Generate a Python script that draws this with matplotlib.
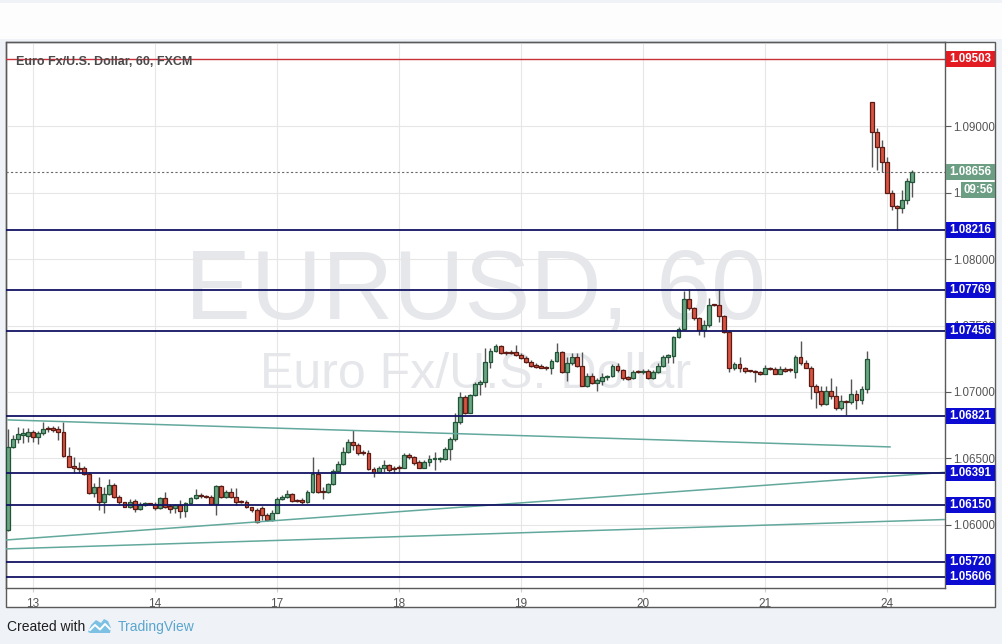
import numpy as np
import matplotlib.pyplot as plt
from matplotlib.patches import Rectangle, Polygon
from matplotlib.lines import Line2D
from matplotlib.transforms import blended_transform_factory

plt.rcParams['font.family'] = ['Liberation Sans', 'DejaVu Sans']

# EUR/USD hourly candles, bar index 0 = the 13th 00:00 (weekend hours skipped)
first_bar = -5
opens = [1.05961, 1.06589, 1.06644, 1.06676, 1.06669, 1.06697, 1.06659, 1.06689, 1.06724, 1.06724,
         1.06724, 1.06697, 1.06521, 1.06443, 1.06425, 1.06425, 1.06383, 1.06237, 1.06282, 1.06174,
         1.06232, 1.06297, 1.06212, 1.06169, 1.06137, 1.06179, 1.06117, 1.06152, 1.06157, 1.06157,
         1.06124, 1.06200, 1.06142, 1.06124, 1.06149, 1.06107, 1.06162, 1.06200, 1.06220, 1.06215,
         1.06212, 1.06157, 1.06292, 1.06207, 1.06250, 1.06212, 1.06174, 1.06174, 1.06132, 1.06112,
         1.06124, 1.06074, 1.06041, 1.06092, 1.06197, 1.06207, 1.06230, 1.06187, 1.06187, 1.06174,
         1.06250, 1.06383, 1.06250, 1.06250, 1.06307, 1.06408, 1.06458, 1.06551, 1.06626, 1.06601,
         1.06543, 1.06543, 1.06423, 1.06398, 1.06425, 1.06448, 1.06425, 1.06430, 1.06430, 1.06523,
         1.06508, 1.06476, 1.06430, 1.06476, 1.06496, 1.06496, 1.06496, 1.06569, 1.06644, 1.06776,
         1.06964, 1.06844, 1.06977, 1.07057, 1.07072, 1.07222, 1.07307, 1.07345, 1.07295, 1.07298,
         1.07298, 1.07280, 1.07252, 1.07227, 1.07202, 1.07197, 1.07182, 1.07182, 1.07235, 1.07302,
         1.07152, 1.07215, 1.07260, 1.07197, 1.07047, 1.07122, 1.07064, 1.07084, 1.07110, 1.07120,
         1.07197, 1.07165, 1.07102, 1.07102, 1.07152, 1.07152, 1.07157, 1.07102, 1.07152, 1.07197,
         1.07265, 1.07270, 1.07411, 1.07476, 1.07697, 1.07629, 1.07553, 1.07466, 1.07503, 1.07654,
         1.07654, 1.07571, 1.07453, 1.07177, 1.07210, 1.07177, 1.07157, 1.07152, 1.07149, 1.07139,
         1.07177, 1.07172, 1.07139, 1.07172, 1.07164, 1.07152, 1.07265, 1.07215, 1.07184, 1.07044,
         1.07009, 1.06908, 1.07009, 1.06971, 1.06876, 1.06934, 1.06921, 1.06984, 1.06943, 1.07026,
         1.09183, 1.08957, 1.08839, 1.08731, 1.08500, 1.08400, 1.08380, 1.08443, 1.08580]
highs = [1.06719, 1.06676, 1.06739, 1.06727, 1.06727, 1.06714, 1.06709, 1.06777, 1.06744, 1.06744,
         1.06744, 1.06777, 1.06589, 1.06508, 1.06476, 1.06443, 1.06400, 1.06312, 1.06358, 1.06282,
         1.06343, 1.06312, 1.06225, 1.06174, 1.06192, 1.06192, 1.06174, 1.06174, 1.06167, 1.06174,
         1.06212, 1.06250, 1.06157, 1.06157, 1.06187, 1.06174, 1.06212, 1.06267, 1.06237, 1.06225,
         1.06225, 1.06300, 1.06300, 1.06262, 1.06275, 1.06275, 1.06187, 1.06187, 1.06137, 1.06124,
         1.06142, 1.06087, 1.06112, 1.06207, 1.06225, 1.06262, 1.06237, 1.06192, 1.06200, 1.06262,
         1.06508, 1.06418, 1.06287, 1.06318, 1.06418, 1.06483, 1.06589, 1.06644, 1.06714, 1.06614,
         1.06563, 1.06563, 1.06438, 1.06443, 1.06488, 1.06458, 1.06443, 1.06451, 1.06538, 1.06538,
         1.06518, 1.06488, 1.06488, 1.06526, 1.06551, 1.06513, 1.06589, 1.06664, 1.06840, 1.07002,
         1.06977, 1.06984, 1.07077, 1.07089, 1.07328, 1.07328, 1.07360, 1.07353, 1.07310, 1.07315,
         1.07353, 1.07290, 1.07270, 1.07240, 1.07215, 1.07207, 1.07195, 1.07245, 1.07365, 1.07310,
         1.07260, 1.07290, 1.07295, 1.07302, 1.07140, 1.07140, 1.07102, 1.07140, 1.07127, 1.07210,
         1.07215, 1.07170, 1.07120, 1.07165, 1.07165, 1.07170, 1.07170, 1.07165, 1.07215, 1.07277,
         1.07285, 1.07421, 1.07486, 1.07762, 1.07772, 1.07641, 1.07566, 1.07541, 1.07704, 1.07661,
         1.07772, 1.07578, 1.07466, 1.07227, 1.07265, 1.07190, 1.07164, 1.07164, 1.07159, 1.07202,
         1.07190, 1.07185, 1.07195, 1.07190, 1.07177, 1.07277, 1.07383, 1.07240, 1.07195, 1.07059,
         1.07044, 1.07044, 1.07102, 1.07044, 1.06976, 1.06943, 1.07094, 1.07014, 1.07044, 1.07307,
         1.09183, 1.08982, 1.08894, 1.08769, 1.08518, 1.08405, 1.08518, 1.08606, 1.08669]
lows = [1.05956, 1.06576, 1.06614, 1.06614, 1.06626, 1.06626, 1.06609, 1.06676, 1.06702, 1.06702,
        1.06639, 1.06513, 1.06433, 1.06393, 1.06388, 1.06375, 1.06232, 1.06212, 1.06112, 1.06092,
        1.06225, 1.06205, 1.06157, 1.06132, 1.06124, 1.06099, 1.06112, 1.06142, 1.06147, 1.06112,
        1.06117, 1.06124, 1.06092, 1.06087, 1.06056, 1.06061, 1.06157, 1.06197, 1.06200, 1.06200,
        1.06149, 1.06074, 1.06200, 1.06200, 1.06200, 1.06149, 1.06162, 1.06124, 1.06099, 1.06016,
        1.06041, 1.06031, 1.06031, 1.06087, 1.06187, 1.06200, 1.06174, 1.06172, 1.06157, 1.06162,
        1.06242, 1.06242, 1.06192, 1.06242, 1.06300, 1.06400, 1.06451, 1.06538, 1.06563, 1.06526,
        1.06526, 1.06413, 1.06358, 1.06388, 1.06400, 1.06400, 1.06388, 1.06400, 1.06425, 1.06493,
        1.06451, 1.06425, 1.06425, 1.06443, 1.06413, 1.06476, 1.06488, 1.06488, 1.06634, 1.06763,
        1.06834, 1.06839, 1.06969, 1.06977, 1.07039, 1.07177, 1.07302, 1.07285, 1.07277, 1.07282,
        1.07270, 1.07245, 1.07215, 1.07190, 1.07177, 1.07177, 1.07165, 1.07135, 1.07227, 1.07140,
        1.07084, 1.07202, 1.07190, 1.07044, 1.07039, 1.07059, 1.07009, 1.07052, 1.07089, 1.07110,
        1.07152, 1.07089, 1.07089, 1.07094, 1.07140, 1.07135, 1.07094, 1.07094, 1.07145, 1.07190,
        1.07220, 1.07215, 1.07403, 1.07470, 1.07616, 1.07541, 1.07428, 1.07410, 1.07491, 1.07646,
        1.07528, 1.07440, 1.07152, 1.07169, 1.07152, 1.07144, 1.07149, 1.07077, 1.07127, 1.07134,
        1.07164, 1.07134, 1.07134, 1.07152, 1.07152, 1.07102, 1.07202, 1.07177, 1.06951, 1.06883,
        1.06893, 1.06901, 1.06951, 1.06863, 1.06868, 1.06825, 1.06913, 1.06871, 1.06908, 1.06994,
        1.08693, 1.08668, 1.08656, 1.08493, 1.08372, 1.08217, 1.08347, 1.08417, 1.08463]
closes = [1.06589, 1.06644, 1.06681, 1.06689, 1.06697, 1.06659, 1.06689, 1.06724, 1.06719, 1.06717,
          1.06697, 1.06521, 1.06438, 1.06425, 1.06423, 1.06383, 1.06237, 1.06282, 1.06174, 1.06232,
          1.06297, 1.06212, 1.06169, 1.06137, 1.06174, 1.06117, 1.06154, 1.06162, 1.06154, 1.06124,
          1.06200, 1.06132, 1.06122, 1.06149, 1.06107, 1.06162, 1.06200, 1.06222, 1.06217, 1.06210,
          1.06157, 1.06292, 1.06207, 1.06250, 1.06212, 1.06174, 1.06172, 1.06132, 1.06112, 1.06019,
          1.06074, 1.06041, 1.06092, 1.06197, 1.06212, 1.06230, 1.06179, 1.06179, 1.06174, 1.06250,
          1.06383, 1.06250, 1.06247, 1.06307, 1.06408, 1.06458, 1.06551, 1.06626, 1.06601, 1.06538,
          1.06541, 1.06418, 1.06398, 1.06425, 1.06448, 1.06413, 1.06423, 1.06428, 1.06523, 1.06508,
          1.06468, 1.06430, 1.06476, 1.06493, 1.06498, 1.06498, 1.06569, 1.06644, 1.06777, 1.06964,
          1.06844, 1.06977, 1.07057, 1.07072, 1.07222, 1.07307, 1.07345, 1.07290, 1.07293, 1.07295,
          1.07275, 1.07252, 1.07227, 1.07197, 1.07190, 1.07182, 1.07180, 1.07235, 1.07302, 1.07152,
          1.07215, 1.07260, 1.07197, 1.07047, 1.07122, 1.07064, 1.07089, 1.07110, 1.07120, 1.07197,
          1.07165, 1.07102, 1.07100, 1.07152, 1.07150, 1.07155, 1.07102, 1.07152, 1.07197, 1.07265,
          1.07277, 1.07411, 1.07476, 1.07697, 1.07629, 1.07553, 1.07466, 1.07503, 1.07654, 1.07651,
          1.07571, 1.07453, 1.07177, 1.07210, 1.07177, 1.07157, 1.07155, 1.07149, 1.07139, 1.07177,
          1.07175, 1.07139, 1.07172, 1.07159, 1.07162, 1.07265, 1.07215, 1.07184, 1.07044, 1.07001,
          1.06908, 1.07009, 1.06971, 1.06876, 1.06934, 1.06921, 1.06984, 1.06943, 1.07026, 1.07247,
          1.08957, 1.08839, 1.08731, 1.08500, 1.08400, 1.08380, 1.08443, 1.08588, 1.08656]

day_ticks = [0, 24, 48, 72, 96, 120, 144, 168]
day_labels = ['13', '14', '17', '18', '19', '20', '21', '24']

support_levels = [1.08216, 1.07769, 1.07456, 1.06821, 1.06391, 1.06150, 1.05720, 1.05606]
resistance_level = 1.09503
last_price = 1.08656
countdown = '09:56'

# trend lines as (bar index pair, price pair)
trend_x = [[-4.9, 168.6], [-5.3, 179.4], [-5.3, 179.4]]
trend_y = [[1.06790, 1.06587], [1.05887, 1.06396], [1.05820, 1.06041]]

W, H = 1002, 644
fig = plt.figure(figsize=(W / 100, H / 100), dpi=100, facecolor='#eff2f6')


def px(x, y):
    # image pixel -> figure fraction
    return x / W, 1 - y / H


# white strip on top and the white chart frame
fig.add_artist(Rectangle(px(0, 39), 1, 36 / H, transform=fig.transFigure,
                         facecolor='#fdfdfd', edgecolor='none', zorder=-2))
fig.add_artist(Rectangle(px(6, 607), 989 / W, 565 / H, transform=fig.transFigure,
                         facecolor='white', edgecolor='#5a5a5a', linewidth=1, zorder=-1))

ax = fig.add_axes([6 / W, 1 - 588 / H, 939 / W, 546 / H])
ax.set_facecolor('none')
ymin, ymax = 1.05526, 1.09632
ax.set_xlim(-5.31, 179.42)
ax.set_ylim(ymin, ymax)
ypp = (ymax - ymin) / 546  # price per pixel

# watermark
ax.text(0.5, 0.4945, 'EURUSD, 60', transform=ax.transAxes, ha='center', va='baseline',
        fontsize=71, color='#e6e7eb', zorder=0.5)
ax.text(0.5, 0.3663, 'Euro Fx/U.S. Dollar', transform=ax.transAxes, ha='center', va='baseline',
        fontsize=36, color='#e6e7eb', zorder=0.5)

# grid
for t in day_ticks:
    ax.axvline(t, color='#e6e6e6', linewidth=0.8, zorder=0.6)
yticks = np.round(np.arange(1.060, 1.0901, 0.005), 3)
for t in yticks:
    ax.axhline(t, color='#e6e6e6', linewidth=0.8, zorder=0.6)

# candles
o = np.array(opens)
h = np.array(highs)
l = np.array(lows)
c = np.array(closes)
x = np.arange(first_bar, first_bar + len(o))
up = c >= o
body_col = np.where(up, '#6ba583', '#d75442')
edge_col = np.where(up, '#225437', '#5b1a13')
ax.vlines(x, l, h, colors='#555555', linewidth=1.0, zorder=3)
ax.bar(x, np.maximum(np.abs(c - o), ypp * 1.2), bottom=np.minimum(o, c), width=0.76,
       color=body_col, edgecolor=edge_col, linewidth=0.9, zorder=4)

# trend lines
for tx, ty in zip(trend_x, trend_y):
    ax.plot(tx, ty, color='#62a89c', linewidth=1.1, zorder=5)

# horizontal levels
for lv in support_levels:
    ax.axhline(lv, color='#121463', linewidth=1.3, zorder=5)
ax.axhline(resistance_level, color='#c8303a', linewidth=1.0, zorder=5)
ax.axhline(last_price, color='#6b6b6b', linewidth=0.8, linestyle=(0, (2, 2)), zorder=5)

# axes styling
ax.yaxis.tick_right()
ax.set_yticks(yticks)
ax.set_yticklabels(['%.5f' % t for t in yticks])
ax.set_xticks(day_ticks)
ax.set_xticklabels(day_labels)
ax.tick_params(axis='y', length=4, width=0.8, color='#5a5a5a', labelsize=8.3,
               labelcolor='#555555', pad=2)
ax.tick_params(axis='x', length=3, width=0.8, color='#d0d0d0', labelsize=8.5,
               labelcolor='#555555', pad=4)
for side in ['left', 'top', 'right', 'bottom']:
    ax.spines[side].set_color('#5a5a5a')
    ax.spines[side].set_linewidth(1)

# price labels on the right scale
blend = blended_transform_factory(ax.transAxes, ax.transData)
box_h = 16 * ypp


def price_box(price, text, color, x0=1.0011, width=0.0522):
    ax.add_patch(Rectangle((x0, price - box_h / 2), width, box_h, transform=blend,
                           facecolor=color, edgecolor='none', clip_on=False, zorder=6))
    ax.text(x0 + width / 2, price, text, transform=blend, ha='center', va='center',
            color='white', fontsize=8.3, fontweight='bold', clip_on=False, zorder=7)


for lv in support_levels:
    price_box(lv, '%.5f' % lv, '#0b0bd2')
price_box(resistance_level, '%.5f' % resistance_level, '#e31b23')
price_box(last_price, '%.5f' % last_price, '#6b9e83')
price_box(last_price - 18 * ypp, countdown, '#6b9e83', x0=1.0170, width=0.0362)

# title
ax.text(10 / 939, 1 - 23 / 546, 'Euro Fx/U.S. Dollar, 60, FXCM', transform=ax.transAxes,
        ha='left', va='baseline', fontsize=9, fontweight='bold', color='#4a4a4a', zorder=7)

# footer
fig.text(*px(7, 627), 'Created with', ha='left', va='center', fontsize=10, color='#1e1e1e')
logo = [(88, 632), (91, 625), (96, 620), (101, 623), (104, 619), (108, 621), (111, 628),
        (110, 633), (90, 633)]
fig.add_artist(Polygon([px(*p) for p in logo], closed=True, transform=fig.transFigure,
                       facecolor='#7cc0e4', edgecolor='none'))
wave = [(90, 630), (95, 625), (100, 629.5), (105, 624), (110, 629)]
fig.add_artist(Line2D([px(*p)[0] for p in wave], [px(*p)[1] for p in wave],
                      transform=fig.transFigure, color='white', linewidth=1.4))
fig.text(*px(118, 627), 'TradingView', ha='left', va='center', fontsize=10, color='#5aa6cf')

plt.savefig('out.png', dpi=100, facecolor=fig.get_facecolor())
